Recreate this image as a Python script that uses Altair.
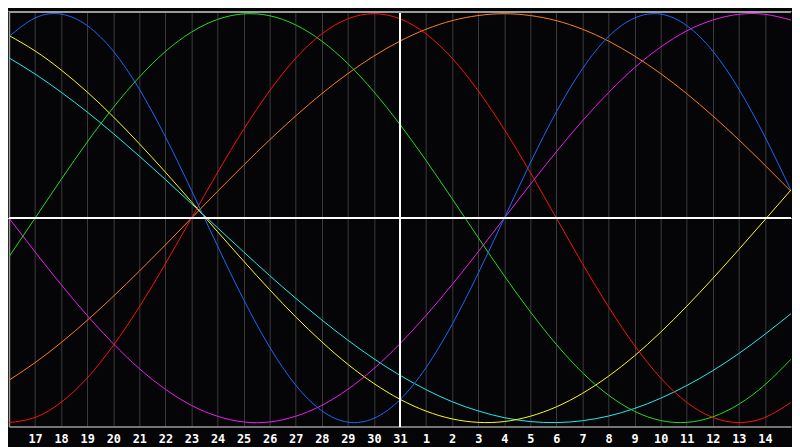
import altair as alt
import pandas as pd

# Day labels for positions t = 0..30 (one per day)
day_labels = ["16", "17", "18", "19", "20", "21", "22", "23", "24", "25", "26", "27",
              "28", "29", "30", "31", "1", "2", "3", "4", "5", "6", "7", "8", "9",
              "10", "11", "12", "13", "14", "15"]
t_index = list(range(31))

# Values at each day (t = 0..30)
physical = [0.888, 0.979, 0.998, 0.942, 0.817, 0.631, 0.398, 0.136, -0.136, -0.398, -0.631,
            -0.817, -0.942, -0.998, -0.979, -0.888, -0.731, -0.520, -0.270, 0.0, 0.270,
            0.520, 0.731, 0.888, 0.979, 0.998, 0.942, 0.817, 0.631, 0.398, 0.136]
intellectual = [-0.189, 0.0, 0.189, 0.372, 0.541, 0.690, 0.815, 0.910, 0.972, 0.999, 0.990,
                0.945, 0.866, 0.756, 0.618, 0.458, 0.282, 0.095, -0.095, -0.282, -0.458,
                -0.618, -0.756, -0.866, -0.945, -0.990, -0.999, -0.972, -0.910, -0.815, -0.690]
emotional = [-1.0, -0.975, -0.901, -0.782, -0.623, -0.434, -0.223, 0.0, 0.223, 0.434, 0.623,
             0.782, 0.901, 0.975, 1.0, 0.975, 0.901, 0.782, 0.623, 0.434, 0.223, 0.0,
             -0.223, -0.434, -0.623, -0.782, -0.901, -0.975, -1.0, -0.975, -0.901]
awareness = [-0.793, -0.707, -0.609, -0.5, -0.383, -0.259, -0.131, 0.0, 0.131, 0.259, 0.383,
             0.5, 0.609, 0.707, 0.793, 0.866, 0.924, 0.966, 0.991, 1.0, 0.991, 0.966, 0.924,
             0.866, 0.793, 0.707, 0.609, 0.5, 0.383, 0.259, 0.131]
intuitive = [0.0, -0.165, -0.325, -0.476, -0.614, -0.736, -0.837, -0.916, -0.969, -0.997,
             -0.997, -0.969, -0.916, -0.837, -0.736, -0.614, -0.476, -0.325, -0.165, 0.0,
             0.165, 0.325, 0.476, 0.614, 0.736, 0.837, 0.916, 0.969, 0.997, 0.997, 0.969]
aesthetic = [0.893, 0.818, 0.725, 0.617, 0.496, 0.364, 0.225, 0.080, -0.066, -0.210, -0.350,
             -0.483, -0.605, -0.715, -0.809, -0.886, -0.944, -0.982, -0.999, -0.995, -0.969,
             -0.923, -0.857, -0.773, -0.673, -0.558, -0.431, -0.295, -0.153, -0.008, 0.138]
spiritual = [0.784, 0.705, 0.616, 0.519, 0.414, 0.303, 0.189, 0.071, -0.047, -0.165, -0.281,
             -0.392, -0.498, -0.597, -0.688, -0.769, -0.839, -0.898, -0.943, -0.976, -0.995,
             -1.0, -0.991, -0.968, -0.931, -0.881, -0.819, -0.746, -0.662, -0.568, -0.467]

series_names = ["Awareness", "Spiritual", "Aesthetic", "Intuitive", "Intellectual",
                "Emotional", "Physical"]
series_values = [awareness, spiritual, aesthetic, intuitive, intellectual, emotional, physical]
series_colors = ["#ff8020", "#20f0f0", "#ffff10", "#f020f0", "#20e020", "#ff1010", "#1a6aff"]

rows = []
for name, vals in zip(series_names, series_values):
    for t, v in zip(t_index, vals):
        rows.append({"t": t, "value": v, "series": name})
df = pd.DataFrame(rows)

today_t = 15
Y_MIN, Y_MAX = -1.019, 1.0095
W, H = 792, 420
BG = "#050508"

label_expr = "[" + ",".join(f"'{d}'" for d in day_labels) + "][datum.value]"

x_scale = alt.Scale(domain=[0, 30], nice=False, zero=False, padding=0)
y_scale = alt.Scale(domain=[Y_MIN, Y_MAX], nice=False, zero=False)

x_axis = alt.Axis(values=t_index[1:30], labelExpr=label_expr, title=None, ticks=False,
                  grid=True, gridColor="#3c3c3c", gridWidth=1,
                  domainColor="#9a9a9a", domainWidth=1.5,
                  labelColor="white", labelFont="DejaVu Sans Mono", labelFontSize=12,
                  labelFontWeight="bold", labelPadding=7, labelFlush=False,
                  labelOverlap=False, labelBound=False)
y_axis = alt.Axis(labels=False, ticks=False, grid=False, title=None,
                  domainColor="#9a9a9a", domainWidth=1.5)

lines = alt.Chart(df).mark_line(strokeWidth=1, interpolate="natural", clip=True).encode(
    x=alt.X("t:Q", scale=x_scale, axis=x_axis),
    y=alt.Y("value:Q", scale=y_scale, axis=y_axis),
    color=alt.Color("series:N", scale=alt.Scale(domain=series_names, range=series_colors),
                    legend=None),
    detail="series:N",
)

zero_rule = alt.Chart(df).mark_rule(color="white", strokeWidth=1.5).encode(
    y=alt.Y(datum=0, scale=y_scale, axis=y_axis)
)
today_rule = alt.Chart(df).mark_rule(color="white", strokeWidth=1.5).encode(
    x=alt.X(datum=today_t, scale=x_scale, axis=x_axis)
)
top_rule = alt.Chart(df).mark_rule(color="#9a9a9a", strokeWidth=1.5).encode(
    y=alt.Y(datum=Y_MAX, scale=y_scale, axis=y_axis)
)

chart = alt.layer(lines, zero_rule, today_rule, top_rule).properties(
    width=W, height=H, background=BG,
    padding={"left": 0, "top": 0, "right": 0, "bottom": 0},
).configure_view(stroke=None, fill=BG)

chart.save("out.html", embed_options={"renderer": "svg", "actions": False})
